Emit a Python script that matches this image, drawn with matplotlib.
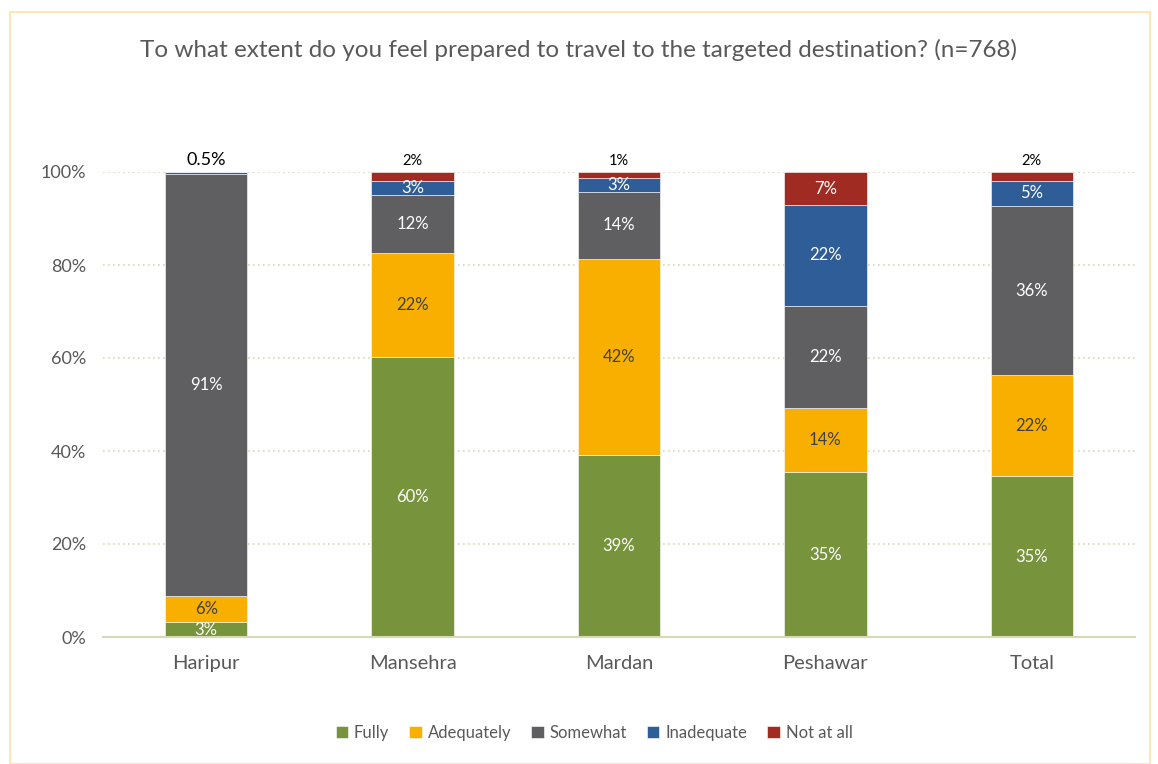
"""Stacked bar: preparedness to travel to the targeted destination, by district."""
import numpy as np
import matplotlib
matplotlib.use("Agg")
import matplotlib.pyplot as plt
from matplotlib.patches import Rectangle

plt.rcParams["font.family"] = ["Lato", "DejaVu Sans"]

DISTRICTS = ["Haripur", "Mansehra", "Mardan", "Peshawar", "Total"]
SERIES = ["Fully", "Adequately", "Somewhat", "Inadequate", "Not at all"]
COLORS = ["#77933C", "#F9AF00", "#5F5F61", "#2E5D97", "#A02B23"]
LABEL_COLORS = ["white", "#404040", "white", "white", "white"]

fully = [3.2, 60.2, 39.1, 35.4, 34.6]
adequately = [5.6, 22.4, 42.2, 13.8, 21.7]
somewhat = [90.7, 12.5, 14.4, 22.0, 36.4]
inadequate = [0.5, 3.0, 3.0, 21.7, 5.4]
not_at_all = [0.0, 1.9, 1.3, 7.1, 1.9]

# labels drawn above the bar instead of inside the segment
TOP_LABELS = {0: "0.5%", 1: "2%", 2: "1%", 4: "2%"}

values = np.array([fully, adequately, somewhat, inadequate, not_at_all]) / 100.0

fig = plt.figure(figsize=(11.58, 7.64), dpi=100)
fig.patches.append(Rectangle((10 / 1158, 0.0), 1140 / 1158, 752 / 764, transform=fig.transFigure,
                             fill=False, edgecolor="#FFE3A6", linewidth=1.2))
ax = fig.add_axes([103 / 1158, 1 - 637 / 764, 1032 / 1158, 465 / 764])

x = np.arange(len(DISTRICTS))
bottom = np.zeros(len(DISTRICTS))
for i, (name, col) in enumerate(zip(SERIES, COLORS)):
    v = values[i]
    ax.bar(x, v, 0.4, bottom=bottom, color=col, edgecolor="white", linewidth=0.4, label=name, zorder=3)
    for j in range(len(DISTRICTS)):
        if v[j] <= 0:
            continue
        small = j in TOP_LABELS and ((i == 3 and j == 0) or (i == 4 and j != 0))
        if small:
            continue
        ax.text(x[j], bottom[j] + v[j] / 2, f"{v[j] * 100:.0f}%", ha="center", va="center",
                color=LABEL_COLORS[i], fontsize=12, zorder=4)
    bottom += v

for j, txt in TOP_LABELS.items():
    ax.text(x[j], bottom[j] + 0.008, txt, ha="center", va="bottom", color="black",
            fontsize=13 if j == 0 else 10.5, zorder=4)

ax.set_xlim(-0.5, len(DISTRICTS) - 0.5)
ax.set_ylim(0, 1)
ax.set_yticks(np.arange(0, 1.01, 0.2))
ax.set_yticklabels([f"{int(t * 100)}%" for t in np.arange(0, 1.01, 0.2)])
ax.set_xticks(x)
ax.set_xticklabels(DISTRICTS)
ax.tick_params(axis="both", length=0, colors="#595959", labelsize=13)
ax.tick_params(axis="x", labelsize=14.5, pad=13)
ax.tick_params(axis="y", pad=12)
ax.grid(axis="y", color="#D5D9B8", linestyle=(0, (1, 2)), linewidth=1.2, zorder=0)
for s in ("top", "right", "left"):
    ax.spines[s].set_visible(False)
ax.spines["bottom"].set_color("#D5D9B8")
ax.spines["bottom"].set_linewidth(1.5)
ax.spines["bottom"].set_zorder(5)

fig.text(0.5, 1 - 50 / 764, "To what extent do you feel prepared to travel to the targeted destination? (n=768)",
         ha="center", va="center", fontsize=17.5, color="#595959")

fig.legend(loc="center", bbox_to_anchor=(594 / 1158, 1 - 733 / 764), ncol=5, frameon=False,
           fontsize=12, handlelength=0.75, handleheight=0.75, handletextpad=0.35, columnspacing=1.2,
           labelcolor="#595959")

fig.savefig("out.png", dpi=100)
